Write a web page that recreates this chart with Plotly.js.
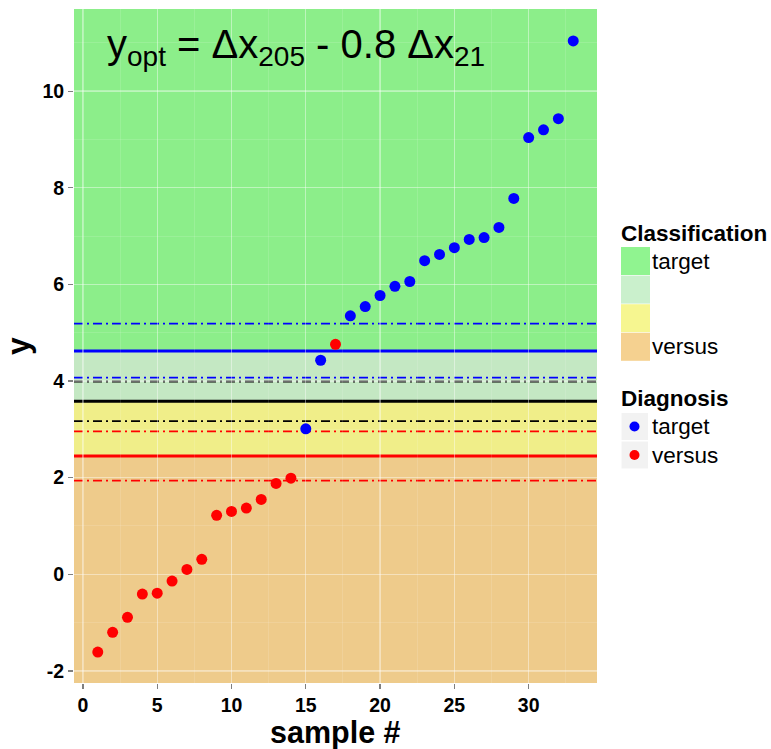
<!DOCTYPE html>
<html>
<head>
<meta charset="utf-8">
<script src="https://cdn.plot.ly/plotly-3.0.1.min.js"></script>
<style>html,body{margin:0;padding:0;background:#fff;}#chart{width:771px;height:749px;}</style>
</head>
<body>
<div id="chart"></div>
<script>
// ---- data ----
const sampleNo = [1,2,3,4,5,6,7,8,9,10,11,12,13,14,15,16,17,18,19,20,21,22,23,24,25,26,27,28,29,30,31,32,33];
const yValues = [-1.61,-1.20,-0.89,-0.41,-0.39,-0.14,0.10,0.31,1.22,1.30,1.37,1.55,1.88,1.99,3.01,4.43,4.76,5.35,5.54,5.77,5.96,6.06,6.49,6.62,6.76,6.93,6.97,7.18,7.78,9.04,9.20,9.43,11.04];
const diagnosis = ['versus','versus','versus','versus','versus','versus','versus','versus','versus','versus','versus','versus','versus','versus',
  'target','target','versus','target','target','target','target','target','target','target','target','target','target','target','target','target','target','target','target'];
const diagLevels = ['target','versus'];
const diagColors = ['#0000FF','#FF0000'];

// classification bands (lower, upper)
const bandLower = [4.62, 3.58, 2.45, -2.25];
const bandUpper = [11.70, 4.62, 3.58, 2.45];
const bandColors = ['#8CEE8A','#C4E8C3','#F0EE89','#EECB8B'];
const legendKeyColors = ['#90F490','#CAF0CC','#F6F690','#F5D190'];
const classLabels = ['target','','','versus'];

// threshold lines
const lineY = [5.19, 4.62, 4.07, 3.99, 3.58, 3.17, 2.96, 2.45, 1.94];
const lineColor = ['#0000FF','#0000FF','#0000FF','#000000','#000000','#000000','#FF0000','#FF0000','#FF0000'];
const lineSolid = [false, true, false, false, true, false, false, true, false];

const xRange = [-0.6, 34.6];
const yRange = [-2.25, 11.70];
const xTicks = [0,5,10,15,20,25,30];
const yTicks = [-2,0,2,4,6,8,10];
const xTitle = 'sample #';
const yTitle = 'y';

// ---- layout helpers ----
const L = 74, R = 597, T = 9, B = 683;
const W = 771, H = 749;
const px = x => (x - L) / (R - L);
const py = y => (B - y) / (B - T);
const FONT = 'Liberation Sans, Arial, Helvetica, sans-serif';

const shapes = [];
bandColors.forEach((c, i) => {
  shapes.push({type:'rect', xref:'paper', yref:'y', x0:0, x1:1, y0:bandLower[i], y1:bandUpper[i],
    fillcolor:c, line:{width:0}, layer:'below'});
});
lineY.forEach((v, i) => {
  shapes.push({type:'line', xref:'paper', yref:'y', x0:0, x1:1, y0:v, y1:v,
    line:{color:lineColor[i], width: lineSolid[i] ? 3 : 1.8, dash: lineSolid[i] ? 'solid' : '9px,4px,2px,4px'},
    layer:'between'});
});

const annotations = [];
// title formula
annotations.push({xref:'paper', yref:'paper', x:px(105), y:py(47), xanchor:'left', yanchor:'middle',
  text:'y<sub>opt</sub> = Δx<sub>205</sub> - 0.8 Δx<sub>21</sub>', showarrow:false,
  font:{family:FONT, size:40, color:'#000'}});

// x axis title
annotations.push({xref:'paper', yref:'paper', x:0.5, y:py(732.5), xanchor:'center', yanchor:'middle',
  text:'<b>' + xTitle + '</b>', showarrow:false, font:{family:FONT, size:30.5, color:'#000'}});

// Classification legend
annotations.push({xref:'paper', yref:'paper', x:px(619), y:py(233), xanchor:'left', yanchor:'middle',
  text:'<b>Classification</b>', showarrow:false, font:{family:FONT, size:22.5, color:'#000'}});
legendKeyColors.forEach((c, i) => {
  const top = 247 + i * 28.6;
  shapes.push({type:'rect', xref:'paper', yref:'paper', x0:px(621), x1:px(650), y0:py(top), y1:py(top + 28),
    fillcolor:c, line:{width:0}});
  if (classLabels[i]) {
    annotations.push({xref:'paper', yref:'paper', x:px(650), y:py(top + 14), xanchor:'left', yanchor:'middle',
      text:classLabels[i], showarrow:false, font:{family:FONT, size:22.5, color:'#000'}});
  }
});

// Diagnosis legend
annotations.push({xref:'paper', yref:'paper', x:px(619), y:py(398), xanchor:'left', yanchor:'middle',
  text:'<b>Diagnosis</b>', showarrow:false, font:{family:FONT, size:22.5, color:'#000'}});
diagLevels.forEach((d, i) => {
  const top = 413 + i * 28.5;
  shapes.push({type:'rect', xref:'paper', yref:'paper', x0:px(621.5), x1:px(648), y0:py(top), y1:py(top + 27),
    fillcolor:'#F2F2F2', line:{width:0}});
  shapes.push({type:'circle', xref:'paper', yref:'paper', x0:px(629.5), x1:px(639.5), y0:py(top + 8.5), y1:py(top + 18.5),
    fillcolor:diagColors[i], line:{width:0}});
  annotations.push({xref:'paper', yref:'paper', x:px(650), y:py(top + 13.5), xanchor:'left', yanchor:'middle',
    text:d, showarrow:false, font:{family:FONT, size:22.5, color:'#000'}});
});

const traces = diagLevels.map((d, k) => {
  const xs = [], ys = [];
  sampleNo.forEach((s, i) => { if (diagnosis[i] === d) { xs.push(s); ys.push(yValues[i]); } });
  return {type:'scatter', mode:'markers', x:xs, y:ys, name:d,
    marker:{color:diagColors[k], size:11, line:{width:0}}, showlegend:false, hoverinfo:'x+y'};
});

const tickFont = {family:FONT, size:19.5, color:'#000', weight:'bold'};
const layout = {
  width:W, height:H,
  margin:{l:L, r:W - R, t:T, b:H - B, pad:0},
  paper_bgcolor:'#FFFFFF', plot_bgcolor:'#EBEBEB',
  showlegend:false,
  xaxis:{range:xRange, tickvals:xTicks, ticktext:xTicks.map(String), ticks:'outside', ticklen:5, tickwidth:1.2, tickcolor:'#7F7F7F',
    showgrid:true, gridcolor:'rgba(255,255,255,0.35)', gridwidth:1.3, zeroline:false, showline:false,
    minor:{dtick:2.5, tick0:0, showgrid:true, gridcolor:'rgba(255,255,255,0.15)', gridwidth:0.8, ticks:''},
    tickfont:tickFont},
  yaxis:{range:yRange, tickvals:yTicks, ticktext:yTicks.map(String), ticks:'outside', ticklen:5, tickwidth:1.2, tickcolor:'#7F7F7F',
    showgrid:true, gridcolor:'rgba(255,255,255,0.35)', gridwidth:1.3, zeroline:false, showline:false,
    minor:{dtick:1, tick0:0, showgrid:true, gridcolor:'rgba(255,255,255,0.15)', gridwidth:0.8, ticks:''},
    tickfont:tickFont,
    title:{text:'<b>' + yTitle + '</b>', font:{family:FONT, size:32, color:'#000'}, standoff:8}},
  shapes:shapes,
  annotations:annotations
};

Plotly.newPlot('chart', traces, layout, {displayModeBar:false, staticPlot:true});
</script>
</body>
</html>
